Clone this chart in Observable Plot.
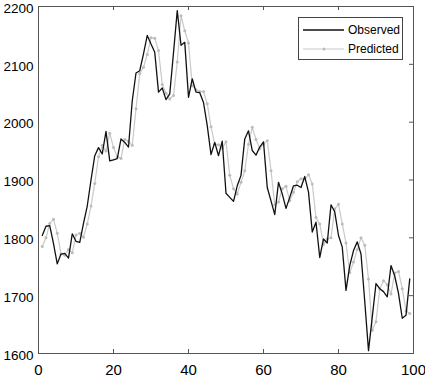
<!DOCTYPE html>
<html><head><meta charset="utf-8">
<script src="https://cdn.jsdelivr.net/npm/d3@7"></script>
<script src="https://cdn.jsdelivr.net/npm/@observablehq/plot@0.6"></script>
<style>
body{margin:0;background:#fff;}
#wrap{position:relative;width:425px;height:379px;}
.legend{position:absolute;left:298px;top:17px;width:105px;height:43px;border:1px solid #444;background:#fff;box-sizing:border-box;}
.legend svg{display:block;}
</style></head><body><div id="wrap"></div>
<script>
const observed = [1804,1820,1821,1790,1755,1772,1773,1765,1807,1794,
1792,1825,1855,1900,1942,1956,1945,1984,1933,1935,
1937,1971,1965,1957,2037,2085,2089,2118,2150,2135,
2121,2052,2059,2039,2049,2120,2193,2133,2138,2043,
2075,2052,2051,2034,1994,1944,1965,1942,1967,1877,
1870,1863,1890,1908,1971,1985,1951,1943,1957,1966,
1887,1864,1840,1896,1876,1851,1870,1890,1891,1887,
1906,1879,1810,1827,1766,1798,1791,1857,1845,1804,
1784,1709,1752,1778,1793,1772,1690,1605,1663,1721,
1712,1707,1698,1752,1734,1704,1661,1666,1729];
const predicted = [1785,1800,1825,1832,1808,1772,1770,1780,1774,1805,
1808,1801,1824,1855,1894,1940,1960,1950,1981,1956,
1940,1937,1970,1967,1960,2023,2084,2095,2117,2146,
2145,2124,2065,2050,2040,2046,2104,2184,2158,2137,
2063,2056,2053,2053,2032,1992,1962,1961,1955,1966,
1908,1885,1876,1896,1916,1962,1991,1970,1954,1962,
1968,1916,1857,1862,1885,1889,1864,1879,1897,1902,
1902,1909,1893,1835,1824,1789,1798,1800,1850,1858,
1824,1791,1740,1758,1780,1800,1787,1729,1640,1655,
1712,1726,1719,1703,1739,1742,1712,1674,1669];
const sampleIndex = observed.map((_, i) => i + 1);
const xTicks = [0,20,40,60,80,100];
const yTicks = [1600,1700,1800,1900,2000,2100,2200];
const seriesNames = ["Observed","Predicted"];

const data = sampleIndex.map((t, i) => ({t, observed: observed[i], predicted: predicted[i]}));
const font = '"Liberation Sans",Arial,sans-serif';
const W = 425, H = 379, mL = 38, mR = 12, mT = 6, mB = 26;
const fw = W - mL - mR, fh = H - mT - mB;
const inner = a => a.slice(1, -1);

const chart = Plot.plot({
  width: W, height: H, marginLeft: mL, marginRight: mR, marginTop: mT, marginBottom: mB,
  style: {fontFamily: font, fontSize: "15px", color: "#000", background: "#fff", overflow: "visible"},
  x: {domain: [0, 100]},
  y: {domain: [1600, 2200]},
  marks: [
    Plot.line(data, {x: "t", y: "predicted", stroke: "#c9c9c9", strokeWidth: 1.2}),
    Plot.dot(data, {x: "t", y: "predicted", r: 1.5, fill: "#bcbcbc", stroke: "none"}),
    Plot.line(data, {x: "t", y: "observed", stroke: "#111", strokeWidth: 1.3}),
    Plot.gridX(inner(xTicks), {insetTop: fh - 4, stroke: "#555", strokeOpacity: 1}),
    Plot.gridX(inner(xTicks), {insetBottom: fh - 4, stroke: "#555", strokeOpacity: 1}),
    Plot.gridY(inner(yTicks), {insetLeft: fw - 4, stroke: "#555", strokeOpacity: 1}),
    Plot.frame({stroke: "#555"}),
    Plot.axisX(xTicks, {tickSize: 0, tickPadding: 11, label: null, fontSize: 15, tickFormat: d => String(d)}),
    Plot.axisY(yTicks, {tickSize: 0, tickPadding: 5, label: null, fontSize: 13.5, dy: 2, tickFormat: d => String(d)})
  ]
});
const wrap = document.getElementById("wrap");
wrap.appendChild(chart);

const lg = document.createElement("div");
lg.className = "legend";
lg.innerHTML = `<svg width="103" height="41" style="font-family:${font.replace(/"/g,"'")};font-size:12px">
<line x1="4" x2="45" y1="12" y2="12" stroke="#111" stroke-width="1.3"/>
<text x="49" y="12" dy="0.35em" fill="#000">${seriesNames[0]}</text>
<line x1="4" x2="45" y1="31" y2="31" stroke="#c9c9c9" stroke-width="1.2"/>
<circle cx="25" cy="31" r="1.5" fill="#bcbcbc"/>
<text x="49" y="31" dy="0.35em" fill="#000">${seriesNames[1]}</text>
</svg>`;
wrap.appendChild(lg);
</script></body></html>
